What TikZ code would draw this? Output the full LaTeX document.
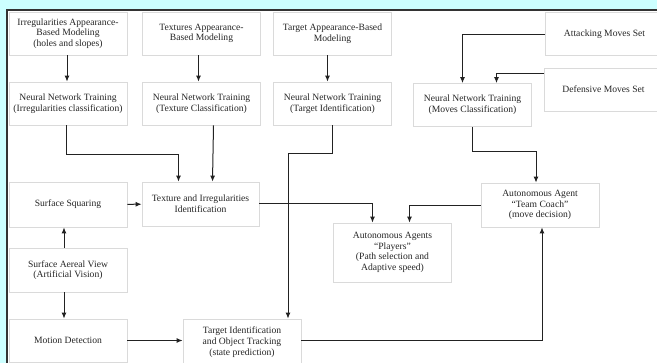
\documentclass[tikz,border=0pt]{standalone}
\usepackage{fontspec}
\setmainfont{Liberation Serif}
\usepackage{tikz}
\usetikzlibrary{arrows.meta,calc,positioning}
\definecolor{bgcyan}{RGB}{204,255,255}
\definecolor{boxline}{RGB}{218,218,218}
\definecolor{arrline}{RGB}{34,34,34}
\tikzset{
    x=1pt,y=-1pt,
    arr/.style={-{Latex[length=6pt,width=5pt]},line width=1pt,draw=arrline},
    blockbox/.style={rectangle, draw=boxline, line width=0.8pt, fill=white,
        minimum width=118pt, minimum height=43pt, inner sep=1pt, align=center,
        text=black!85, font=\rmfamily\fontsize{9.6}{10.7}\selectfont},
    panel/.style={draw=black!80, line width=1.4pt, fill=white}
}

\begin{document}
\begin{tikzpicture}

  \useasboundingbox (0,0) rectangle (657,363);
  \clip (0,0) rectangle (657,363);
  \fill[bgcyan] (0,0) rectangle (657,363);
  \draw[panel] (7,10) rectangle (680,390);

  % top row: modeling and move sets
  \node[blockbox] (IrrMod) at (68,33.5)  {Irregularities Appearance-\\Based Modeling\\(holes and slopes)};
  \node[blockbox] (TexMod) at (201.5,33.5) {Textures Appearance-\\Based Modeling};
  \node[blockbox] (TgtMod) at (332.5,33.5) {Target Appearance-Based\\Modeling};
  \node[blockbox] (AttSet) at (604.5,34) {Attacking Moves Set};
  \node[blockbox] (DefSet) at (603.5,89.5) {Defensive Moves Set};

  % neural network training
  \node[blockbox] (NNIrr) at (68,103.5)  {Neural Network Training\\(Irregularities classification)};
  \node[blockbox] (NNTex) at (201.5,103.5) {Neural Network Training\\(Texture Classification)};
  \node[blockbox] (NNTgt) at (332.5,103.5) {Neural Network Training\\(Target Identification)};
  \node[blockbox] (NNMov) at (472.5,105) {Neural Network Training\\(Moves Classification)};

  % identification and agents
  \node[blockbox, minimum height=45pt] (SurfSq) at (68,204.5) {Surface Squaring};
  \node[blockbox, minimum width=117pt, minimum height=44pt] (TexId) at (200.5,204) {Texture and Irregularities\\Identification};
  \node[blockbox, minimum height=44pt] (Coach) at (540,205) {Autonomous Agent\\“Team Coach”\\(move decision)};
  \node[blockbox, minimum height=59pt] (Players) at (392.5,252.5) {Autonomous Agents\\“Players”\\(Path selection and\\Adaptive speed)};

  % vision and tracking
  \node[blockbox, minimum height=44pt] (Aerial) at (68,270) {Surface Aereal View\\(Artificial Vision)};
  \node[blockbox] (Motion) at (68,340.5) {Motion Detection};
  \node[blockbox, minimum height=46pt] (TgtId) at (242,342) {Target Identification\\and Object Tracking\\(state prediction)};

  \draw[arr] ([xshift=-1pt]IrrMod.south) -- ([xshift=-1pt]NNIrr.north);
  \draw[arr] ([xshift=-3pt]TexMod.south) -- ([xshift=-3pt]NNTex.north);
  \draw[arr] ([xshift=-5pt]TgtMod.south) -- ([xshift=-5pt]NNTgt.north);
  \draw[arr] ([yshift=-1pt]AttSet.west) -| ([xshift=-10pt]NNMov.north);
  \draw[arr] ([yshift=-6pt]DefSet.north west) -| ([xshift=24pt]NNMov.north);

  \draw[arr] ([xshift=-2pt]NNIrr.south) -- ++(0,29) -| ([xshift=-22pt]TexId.north);
  \draw[arr] ([xshift=12pt]NNTex.south) -- ([xshift=12pt]TexId.north);
  \draw[arr] (NNTgt.south) -- ++(0,28) -| ([xshift=46pt]TgtId.north);
  \draw[arr] (NNMov.south) -- ++(0,25) -| ([xshift=-4pt]Coach.north);

  \draw[arr] (SurfSq) -- (TexId);
  \draw[arr] (TexId.east) -| ([xshift=-20pt]Players.north);
  \draw[arr] ([yshift=-1pt]Coach.west) -| ([xshift=17pt]Players.north);

  \draw[arr] ([xshift=-4pt]Aerial.north) -- ([xshift=-4pt]SurfSq.south);
  \draw[arr] ([xshift=-4pt]Aerial.south) -- ([xshift=-4pt]Motion.north);
  \draw[arr] (Motion.east) -- (Motion.east -| TgtId.west);
  \draw[arr] ([yshift=1pt]TgtId.east) -| ([xshift=2pt]Coach.south);
\end{tikzpicture}
\end{document}
